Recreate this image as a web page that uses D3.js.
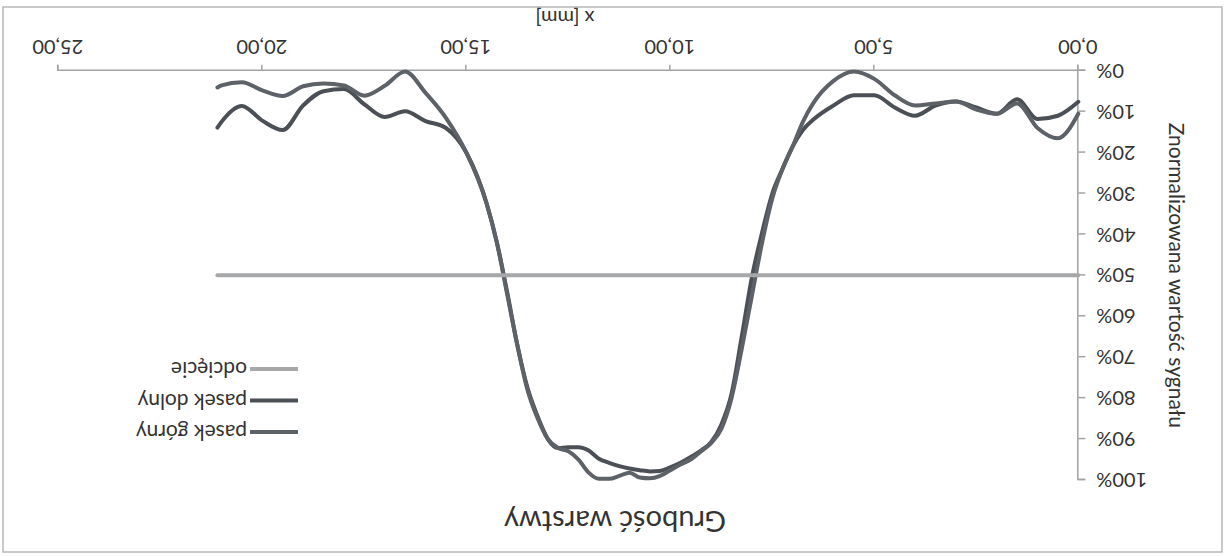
<!DOCTYPE html>
<html>
<head>
<meta charset="utf-8">
<script src="https://cdn.jsdelivr.net/npm/d3@7"></script>
<style>
  body { margin: 0; background: #fff; }
  svg { display: block; font-family: Lato, "Open Sans", sans-serif; }
</style>
</head>
<body>
<svg width="1231" height="556"></svg>
<script>
// x positions (mm) and the normalized signal values (%)
const xMm = [0, 0.5, 1, 1.5, 2, 2.5, 3, 3.5, 4, 4.5, 5, 5.5, 6, 6.5, 6.75, 7, 7.25, 7.5, 7.75,
  8, 8.25, 8.5, 8.75, 9, 9.25, 9.5, 9.75, 10, 10.25, 10.5, 10.75, 11, 11.25, 11.5, 11.75,
  12, 12.25, 12.5, 12.75, 13, 13.25, 13.5, 13.75, 14, 14.25, 14.5, 15, 15.5, 16, 16.5, 17,
  17.5, 18, 18.5, 19, 19.5, 20, 20.5, 21, 21.1];
const pasekGorny = [10.5, 16.5, 14, 8, 10.5, 9.5, 7.5, 8, 8.5, 6, 2, 0.2, 2.5, 8, 12.5, 18.5, 24, 31.2, 42,
  55, 68, 80, 87.5, 91, 93, 95, 96.2, 97.6, 99, 99.6, 99.4, 98.2, 99, 99.7, 99.7,
  98.2, 95, 93, 92.2, 90, 85, 78, 67, 54.5, 42, 32.5, 20, 11.5, 5.4, 0.2, 3.7,
  6.1, 3.6, 3.1, 3.8, 6.2, 4.8, 2.8, 3.6, 4.1];
const pasekDolny = [7.6, 11, 11.8, 7, 10.5, 9, 7.5, 8.5, 11, 9, 6, 6, 8.5, 12, 14.5, 18.5, 24, 30, 39.5,
  50.5, 65, 79, 86.5, 90.8, 92.8, 94.4, 95.8, 96.9, 97.8, 97.9, 97.6, 97.2, 96.6, 95.8, 94.8,
  92.8, 92, 92, 92.2, 90, 84.5, 77.5, 67, 54, 42, 32.5, 20, 14, 12.3, 9.9, 11.3,
  8.2, 4.5, 5, 8.5, 14.5, 12.2, 8.6, 12.5, 13.9];
const odciecieX = [0, 21.1];
const odciecie = [50, 50];

const xTicks = [0, 5, 10, 15, 20, 25];
const yTicks = [0, 10, 20, 30, 40, 50, 60, 70, 80, 90, 100];

const seriesNames = ['pasek górny', 'pasek dolny', 'odcięcie'];
const seriesColors = ['#5d6268', '#4b5056', '#a5a7a9'];

const W = 1231, H = 556;
const svg = d3.select('svg');

// the whole chart is photographed upside down, so draw it normally and turn it over
const root = svg.append('g').attr('transform', `rotate(180 ${W / 2} ${H / 2})`);

root.append('rect')
  .attr('x', 9).attr('y', 4).attr('width', 1219).attr('height', 545)
  .attr('fill', '#fff').attr('stroke', '#b8b8b8').attr('stroke-width', 1.5);

const x = d3.scaleLinear().domain([0, 25]).range([152.7, 1172.7]);
const y = d3.scaleLinear().domain([0, 100]).range([485.3, 76]);

const xAxis = root.append('g')
  .attr('transform', `translate(0,${y(0)})`)
  .call(d3.axisBottom(x).tickValues(xTicks).tickSize(6).tickPadding(11)
    .tickFormat(d => d3.format('.2f')(d).replace('.', ',')));

const yAxis = root.append('g')
  .attr('transform', `translate(${x(0)},0)`)
  .call(d3.axisLeft(y).tickValues(yTicks).tickSize(7).tickPadding(11)
    .tickFormat(d => d + '%'));

[xAxis, yAxis].forEach(a => {
  a.select('.domain').attr('stroke', '#a3a3a3').attr('stroke-width', 1.5);
  a.selectAll('.tick line').attr('stroke', '#a3a3a3').attr('stroke-width', 1.5);
  a.selectAll('.tick text').attr('fill', '#333').attr('font-size', 20)
    .attr('font-family', 'Lato, sans-serif');
});

// lines
const line = d3.line()
  .x(d => x(d[0]))
  .y(d => y(d[1]))
  .curve(d3.curveMonotoneX);

const lines = [
  xMm.map((v, i) => [v, pasekDolny[i]]),
  xMm.map((v, i) => [v, pasekGorny[i]]),
  odciecieX.map((v, i) => [v, odciecie[i]])
];
const lineColors = [seriesColors[1], seriesColors[0], seriesColors[2]];

root.selectAll('.series')
  .data(lines)
  .enter()
  .append('path')
  .attr('class', 'series')
  .attr('d', line)
  .attr('fill', 'none')
  .attr('stroke', (d, i) => lineColors[i])
  .attr('stroke-width', 4)
  .attr('stroke-linejoin', 'round')
  .attr('stroke-linecap', 'round');

// titles
root.append('text')
  .attr('x', 616).attr('y', 45)
  .attr('text-anchor', 'middle')
  .attr('font-size', 29)
  .attr('fill', '#333')
  .text('Grubość warstwy');

root.append('text')
  .attr('x', 666).attr('y', 545)
  .attr('text-anchor', 'middle')
  .attr('font-size', 20)
  .attr('fill', '#333')
  .text('x [mm]');

root.append('text')
  .attr('transform', `translate(62,${(y(0) + y(100)) / 2}) rotate(-90)`)
  .attr('text-anchor', 'middle')
  .attr('font-size', 21)
  .attr('fill', '#333')
  .text('Znormalizowana wartość sygnału');

// legend
const legend = root.append('g').attr('transform', 'translate(933,124)');
const rows = legend.selectAll('.row')
  .data(seriesNames)
  .enter()
  .append('g')
  .attr('class', 'row')
  .attr('transform', (d, i) => `translate(0,${i * 31.5})`);

rows.append('line')
  .attr('x1', 0).attr('x2', 48)
  .attr('stroke', (d, i) => seriesColors[i])
  .attr('stroke-width', 4);

rows.append('text')
  .attr('x', 51).attr('y', 7)
  .attr('font-size', 21)
  .attr('fill', '#333')
  .text(d => d);
</script>
</body>
</html>
